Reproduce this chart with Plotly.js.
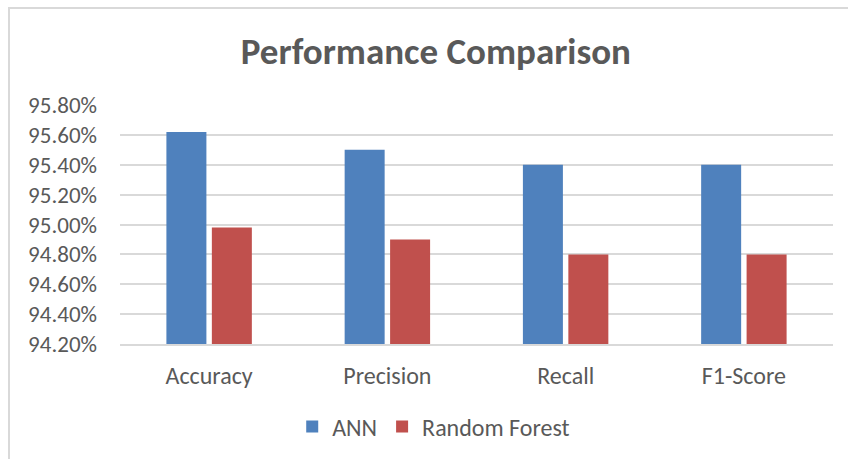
<!DOCTYPE html>
<html>
<head>
<meta charset="utf-8">
<script src="https://cdn.plot.ly/plotly-3.0.1.min.js"></script>
<style>
html,body{margin:0;padding:0;background:#fff;}
#wrap{position:absolute;left:0;top:0;width:848px;height:459px;}
#frame{position:absolute;left:8px;top:7px;width:850px;height:460px;border-left:2px solid #d9d9d9;border-top:2px solid #d9d9d9;pointer-events:none;}
#chart{position:absolute;left:0;top:0;width:848px;height:459px;}
</style>
</head>
<body>
<div id="wrap">
<div id="chart"></div>
<div id="frame"></div>
</div>
<script>
const categories = ["Accuracy", "Precision", "Recall", "F1-Score"];
const annValues = [95.62, 95.50, 95.40, 95.40];
const rfValues = [94.98, 94.90, 94.80, 94.80];
const seriesNames = ["ANN", "Random Forest"];
const yTicks = [94.2, 94.4, 94.6, 94.8, 95.0, 95.2, 95.4, 95.6, 95.8];

const textColor = "#595959";
const fontFam = "Carlito, Lato, 'Open Sans', 'Liberation Sans', sans-serif";

const traces = [
  {type: "bar", name: seriesNames[0], x: categories, y: annValues, marker: {color: "#4F81BD"}, hoverinfo: "none"},
  {type: "bar", name: seriesNames[1], x: categories, y: rfValues, marker: {color: "#C0504D"}, hoverinfo: "none"}
];

const layout = {
  width: 848, height: 459,
  margin: {l: 120, r: 15, t: 105, b: 115},
  paper_bgcolor: "rgba(0,0,0,0)",
  plot_bgcolor: "#fff",
  barmode: "group",
  bargap: 0.49,
  bargroupgap: 0.12,
  font: {family: fontFam, color: textColor, size: 23},
  title: {
    text: "<b>Performance Comparison</b>",
    font: {family: fontFam, size: 37, color: textColor},
    x: 0.514, xanchor: "center",
    y: 1 - 51 / 459, yref: "container", yanchor: "middle"
  },
  xaxis: {
    showgrid: false, showline: true, linecolor: "#d9d9d9", linewidth: 2,
    ticks: "", ticklen: 0,
    tickfont: {size: 24, color: textColor},
    ticklabelstandoff: 9,
    zeroline: false
  },
  yaxis: {
    range: [94.2, 95.8],
    tickvals: yTicks,
    ticktext: yTicks.map(v => v.toFixed(2) + "%"),
    showgrid: true, gridcolor: "#d9d9d9", gridwidth: 2,
    zeroline: false, showline: false, ticks: "",
    tickfont: {size: 23, color: textColor},
    ticklabelstandoff: 22
  },
  showlegend: true,
  legend: {
    orientation: "h", x: 0.44, xanchor: "center",
    y: 1 - 427 / 459, yref: "container", yanchor: "middle",
    font: {size: 24, color: textColor},
    itemwidth: 30
  }
};

Plotly.newPlot("chart", traces, layout, {displayModeBar: false, staticPlot: true});
</script>
</body>
</html>
